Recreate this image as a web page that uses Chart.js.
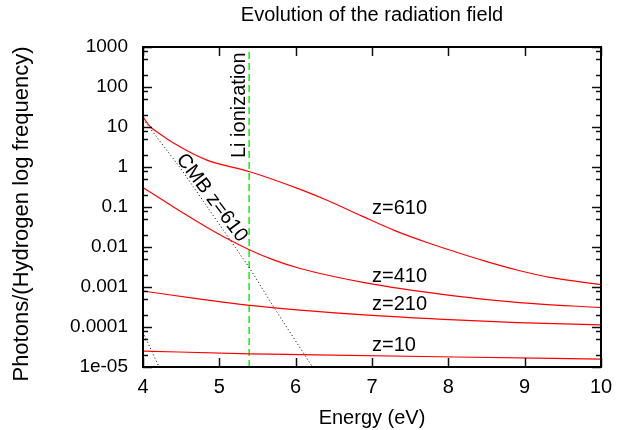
<!DOCTYPE html>
<html>
<head>
<meta charset="utf-8">
<script src="https://cdn.jsdelivr.net/npm/chart.js@4.4.1/dist/chart.umd.min.js"></script>
<style>
  html, body { margin: 0; padding: 0; background: #fff; }
</style>
</head>
<body>
<canvas id="chart" width="626" height="430"></canvas>
<script>
/* ================= DATA ================= */
const z610Energy  = [4.0, 4.1, 4.22, 4.4, 4.83, 5.4, 6.06, 6.42, 6.87, 7.3, 7.74, 8.09, 8.46, 8.9, 9.33, 10.0];
const z610Photons = [17.8, 10.0, 6.76, 3.98, 1.51, 0.76, 0.275, 0.145, 0.059, 0.0257, 0.0126, 0.0076, 0.00457, 0.00266, 0.00174, 0.00115];

const z410Energy  = [4.0, 4.4, 4.83, 5.1, 5.4, 5.71, 6.06, 6.9, 8.05, 8.9, 10.0];
const z410Photons = [0.305, 0.1, 0.0317, 0.0163, 0.00845, 0.00477, 0.0029, 0.00129, 0.000612, 0.000414, 0.000305];

const z210Energy  = [4.0, 4.75, 5.4, 6.06, 7.0, 8.09, 8.9, 10.0];
const z210Photons = [0.000794, 0.000498, 0.000348, 0.000265, 0.000195, 0.00015, 0.000129, 0.0001125];

const z10Energy  = [4.0, 5.4, 6.06, 8.09, 10.0];
const z10Photons = [2.5e-5, 2.14e-5, 2.04e-5, 1.78e-5, 1.58e-5];

// black dotted CMB curves
const cmb610Energy  = [4.0, 4.48, 5.4, 5.71, 6.22];
const cmb610Photons = [15.8, 1.0, 0.0029, 0.00032, 1.0e-5];
const cmb410Energy  = [4.0, 4.21];
const cmb410Photons = [7.4e-5, 1.0e-5];

const liEnergy = 5.39;

const xTicks = [4, 5, 6, 7, 8, 9, 10];
const yTicks = [1e-5, 1e-4, 1e-3, 1e-2, 0.1, 1, 10, 100, 1000];
const yTickLabels = ["1e-05", "0.0001", "0.001", "0.01", "0.1", "1", "10", "100", "1000"];
const yMinor = [2, 5, 8];

const seriesLabels = ["z=610", "z=410", "z=210", "z=10"];

/* ================= HELPERS ================= */
const FONT = "'Liberation Sans', Arial, Helvetica, sans-serif";
const pts = (xs, ys) => xs.map((x, i) => ({ x: x, y: ys[i] }));

function redLine(xs, ys) {
  return {
    data: pts(xs, ys),
    borderColor: "#ff0000",
    borderWidth: 1.2,
    pointRadius: 0,
    cubicInterpolationMode: "monotone",
    fill: false
  };
}

function dotLine(xs, ys) {
  return {
    data: pts(xs, ys),
    borderColor: "#000000",
    borderWidth: 1,
    borderDash: [1, 2.5],
    pointRadius: 0,
    tension: 0,
    fill: false
  };
}

/* ================= FRAME + TEXT ================= */
const framePlugin = {
  id: "frame",
  afterDatasetsDraw(chart) {
    const { ctx, chartArea: a, scales: { x, y } } = chart;
    ctx.save();

    // inward tick marks on all four sides
    ctx.strokeStyle = "#111";
    ctx.lineWidth = 1.5;
    ctx.beginPath();
    xTicks.forEach(v => {
      const px = Math.round(x.getPixelForValue(v)) + 0.5;
      ctx.moveTo(px, a.bottom); ctx.lineTo(px, a.bottom - 9);
      ctx.moveTo(px, a.top); ctx.lineTo(px, a.top + 9);
    });
    yTicks.forEach((v, i) => {
      const py = Math.round(y.getPixelForValue(v)) + 0.5;
      ctx.moveTo(a.left, py); ctx.lineTo(a.left + 9, py);
      ctx.moveTo(a.right, py); ctx.lineTo(a.right - 9, py);
      if (i < yTicks.length - 1) {
        yMinor.forEach(m => {
          const pm = Math.round(y.getPixelForValue(v * m)) + 0.5;
          ctx.moveTo(a.left, pm); ctx.lineTo(a.left + 5, pm);
          ctx.moveTo(a.right, pm); ctx.lineTo(a.right - 5, pm);
        });
      }
    });
    ctx.stroke();

    ctx.lineWidth = 2;
    ctx.strokeStyle = "#000";
    ctx.strokeRect(a.left, a.top, a.right - a.left, a.bottom - a.top);

    // curve labels
    ctx.fillStyle = "#000";
    ctx.font = "20px " + FONT;
    ctx.textAlign = "left";
    ctx.textBaseline = "alphabetic";
    const labelX = x.getPixelForValue(7.0);
    ctx.fillText(seriesLabels[0], labelX, y.getPixelForValue(0.065));
    ctx.fillText(seriesLabels[1], labelX, y.getPixelForValue(0.00132));
    ctx.fillText(seriesLabels[2], labelX, y.getPixelForValue(0.000272));
    ctx.fillText(seriesLabels[3], labelX, y.getPixelForValue(2.5e-5));

    // Li ionization, vertical
    ctx.save();
    ctx.translate(x.getPixelForValue(liEnergy) - 10, y.getPixelForValue(35));
    ctx.rotate(-Math.PI / 2);
    ctx.textAlign = "center";
    ctx.textBaseline = "middle";
    ctx.fillText("Li ionization", 0, 0);
    ctx.restore();

    // CMB label along the dotted line
    ctx.save();
    ctx.translate(x.getPixelForValue(4.9), y.getPixelForValue(0.17));
    ctx.rotate(53 * Math.PI / 180);
    ctx.textAlign = "center";
    ctx.textBaseline = "middle";
    ctx.fillText("CMB z=610", 0, 0);
    ctx.restore();

    // y axis title (sits a little below the axis middle in the original)
    ctx.save();
    ctx.font = "22px " + FONT;
    ctx.translate(22, (a.top + a.bottom) / 2 + 7);
    ctx.rotate(-Math.PI / 2);
    ctx.textAlign = "center";
    ctx.textBaseline = "middle";
    ctx.fillText("Photons/(Hydrogen log frequency)", 0, 0);
    ctx.restore();

    ctx.restore();
  }
};

/* ================= CHART ================= */
const ctx = document.getElementById("chart").getContext("2d");

new Chart(ctx, {
  type: "line",
  data: {
    datasets: [
      redLine(z610Energy, z610Photons),
      redLine(z410Energy, z410Photons),
      redLine(z210Energy, z210Photons),
      redLine(z10Energy, z10Photons),
      dotLine(cmb610Energy, cmb610Photons),
      dotLine(cmb410Energy, cmb410Photons),
      {
        data: pts([liEnergy, liEnergy], [yTicks[0], yTicks[yTicks.length - 1]]),
        borderColor: "#00dd00",
        borderWidth: 1.3,
        borderDash: [7, 4],
        pointRadius: 0,
        fill: false
      }
    ]
  },
  options: {
    responsive: false,
    animation: false,
    layout: { padding: { left: 0, right: 25, top: 0, bottom: 0 } },
    plugins: {
      legend: { display: false },
      tooltip: { enabled: false },
      title: {
        display: true,
        fullSize: false,
        text: "Evolution of the radiation field",
        color: "#000",
        font: { family: FONT, size: 20, weight: "normal" },
        padding: { top: 3, bottom: 20 }
      }
    },
    scales: {
      x: {
        type: "linear",
        min: 4,
        max: 10,
        grid: { display: false, drawTicks: false },
        border: { display: false },
        ticks: {
          stepSize: 1,
          padding: 8,
          color: "#000",
          font: { family: FONT, size: 20 }
        },
        title: {
          display: true,
          text: "Energy (eV)",
          color: "#000",
          font: { family: FONT, size: 20 },
          padding: { top: 0, bottom: 0 }
        },
        afterFit: s => { s.height = 63; }
      },
      y: {
        type: "logarithmic",
        min: 1e-5,
        max: 1000,
        grid: { display: false, drawTicks: false },
        border: { display: false },
        afterBuildTicks: s => { s.ticks = yTicks.map(v => ({ value: v })); },
        ticks: {
          padding: 15,
          color: "#000",
          font: { family: FONT, size: 19 },
          callback: (v) => yTickLabels[yTicks.findIndex(t => Math.abs(Math.log10(t) - Math.log10(v)) < 1e-6)]
        },
        afterFit: s => { s.width = 143; }
      }
    }
  },
  plugins: [framePlugin]
});
</script>
</body>
</html>
